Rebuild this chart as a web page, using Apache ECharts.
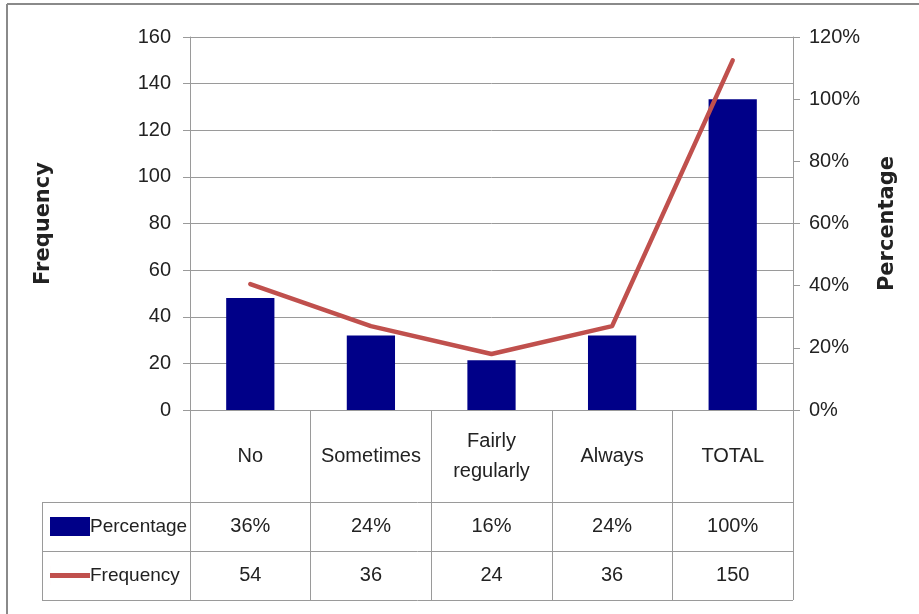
<!DOCTYPE html>
<html>
<head>
<meta charset="utf-8">
<script src="https://cdn.jsdelivr.net/npm/echarts@6/dist/echarts.min.js"></script>
<style>html,body{margin:0;padding:0;background:#fff;}#c{width:919px;height:614px;}</style>
</head>
<body>
<div id="c"></div>
<script>
var categories = ['No', 'Sometimes', 'Fairly\nregularly', 'Always', 'TOTAL'];
var percentage = [36, 24, 16, 24, 100];
var frequency = [54, 36, 24, 36, 150];
var leftTicks = {min: 0, max: 160, interval: 20};
var rightTicks = {min: 0, max: 120, interval: 20};

var FONT = '"Liberation Sans Narrow", "Liberation Sans", Arial, sans-serif';
var FS = 20;
var gray = '#9a9a9a';
var txt = '#222';
var lineColor = '#C0504D';
var barColor = '#000088';
var chart = echarts.init(document.getElementById('c'));

var G = {left: 190, right: 126, top: 37, bottom: 204};
var tableBottom = 600;

chart.setOption({
  animation: false,
  backgroundColor: '#fff',
  legend: {
    orient: 'vertical',
    left: 45, top: 512,
    itemGap: 30,
    itemWidth: 40, itemHeight: 19,
    textStyle: {fontFamily: FONT, fontSize: 19, color: txt, padding: [0, 0, 0, -5]},
    data: [
      {name: 'Percentage', icon: 'rect', itemStyle: {color: barColor}},
      {name: 'Frequency', icon: 'path://M0,7h40v5h-40z M0,0h0.01v19h-0.01z', itemStyle: {color: lineColor}}
    ]
  },
  grid: G,
  xAxis: [
    {
      type: 'category', data: categories, position: 'bottom',
      axisLine: {lineStyle: {color: gray, width: 1}},
      axisTick: {show: true, length: tableBottom - 410, lineStyle: {color: gray}},
      axisLabel: {fontFamily: FONT, fontSize: FS, color: txt, margin: 46, verticalAlign: 'middle', lineHeight: 30, interval: 0}
    },
    {
      type: 'category', data: percentage.map(function (v) { return v + '%'; }), position: 'bottom',
      axisLine: {show: false}, axisTick: {show: false},
      axisLabel: {fontFamily: FONT, fontSize: FS, color: txt, margin: 116, verticalAlign: 'middle', interval: 0}
    },
    {
      type: 'category', data: frequency.map(String), position: 'bottom',
      axisLine: {show: false}, axisTick: {show: false},
      axisLabel: {fontFamily: FONT, fontSize: FS, color: txt, margin: 165, verticalAlign: 'middle', interval: 0}
    }
  ],
  yAxis: [
    {
      type: 'value', min: leftTicks.min, max: leftTicks.max, interval: leftTicks.interval,
      name: 'Frequency', nameLocation: 'middle', nameGap: 136, nameRotate: 90,
      nameTextStyle: {fontFamily: '"DejaVu Sans", sans-serif', fontWeight: 'bold', fontSize: 21, color: txt},
      axisLine: {show: true, lineStyle: {color: gray}},
      axisTick: {show: true, length: 7, lineStyle: {color: gray}},
      axisLabel: {fontFamily: FONT, fontSize: FS, color: txt, margin: 19},
      splitLine: {show: true, lineStyle: {color: gray, width: 1}}
    },
    {
      type: 'value', min: rightTicks.min, max: rightTicks.max, interval: rightTicks.interval, position: 'right',
      name: 'Percentage', nameLocation: 'middle', nameGap: 84, nameRotate: 90,
      nameTextStyle: {fontFamily: '"DejaVu Sans", sans-serif', fontWeight: 'bold', fontSize: 21, color: txt},
      axisLine: {show: true, lineStyle: {color: gray}},
      axisTick: {show: true, length: 7, lineStyle: {color: gray}},
      axisLabel: {fontFamily: FONT, fontSize: FS, color: txt, margin: 16, formatter: '{value}%'},
      splitLine: {show: false}
    }
  ],
  series: [
    {
      name: 'Percentage', type: 'bar', xAxisIndex: 0, yAxisIndex: 1,
      data: percentage, barWidth: '40%',
      itemStyle: {color: barColor}
    },
    {
      name: 'Frequency', type: 'line', xAxisIndex: 0, yAxisIndex: 0,
      data: frequency, symbol: 'none',
      lineStyle: {color: lineColor, width: 4.5, cap: 'round', join: 'round'},
      itemStyle: {color: lineColor}
    }
  ],
  graphic: [
    {type: 'line', shape: {x1: 7, y1: 4, x2: 7, y2: 614}, style: {stroke: '#8a8a8a', lineWidth: 2}},
    {type: 'line', shape: {x1: 7, y1: 4, x2: 919, y2: 4}, style: {stroke: '#8a8a8a', lineWidth: 2}},
    {type: 'line', shape: {x1: 42, y1: 502.5, x2: 793, y2: 502.5}, style: {stroke: gray, lineWidth: 1}},
    {type: 'line', shape: {x1: 42, y1: 551.5, x2: 793, y2: 551.5}, style: {stroke: gray, lineWidth: 1}},
    {type: 'line', shape: {x1: 42, y1: 600.5, x2: 793, y2: 600.5}, style: {stroke: gray, lineWidth: 1}},
    {type: 'line', shape: {x1: 42.5, y1: 502, x2: 42.5, y2: 600}, style: {stroke: gray, lineWidth: 1}}
  ]
});
</script>
</body>
</html>
